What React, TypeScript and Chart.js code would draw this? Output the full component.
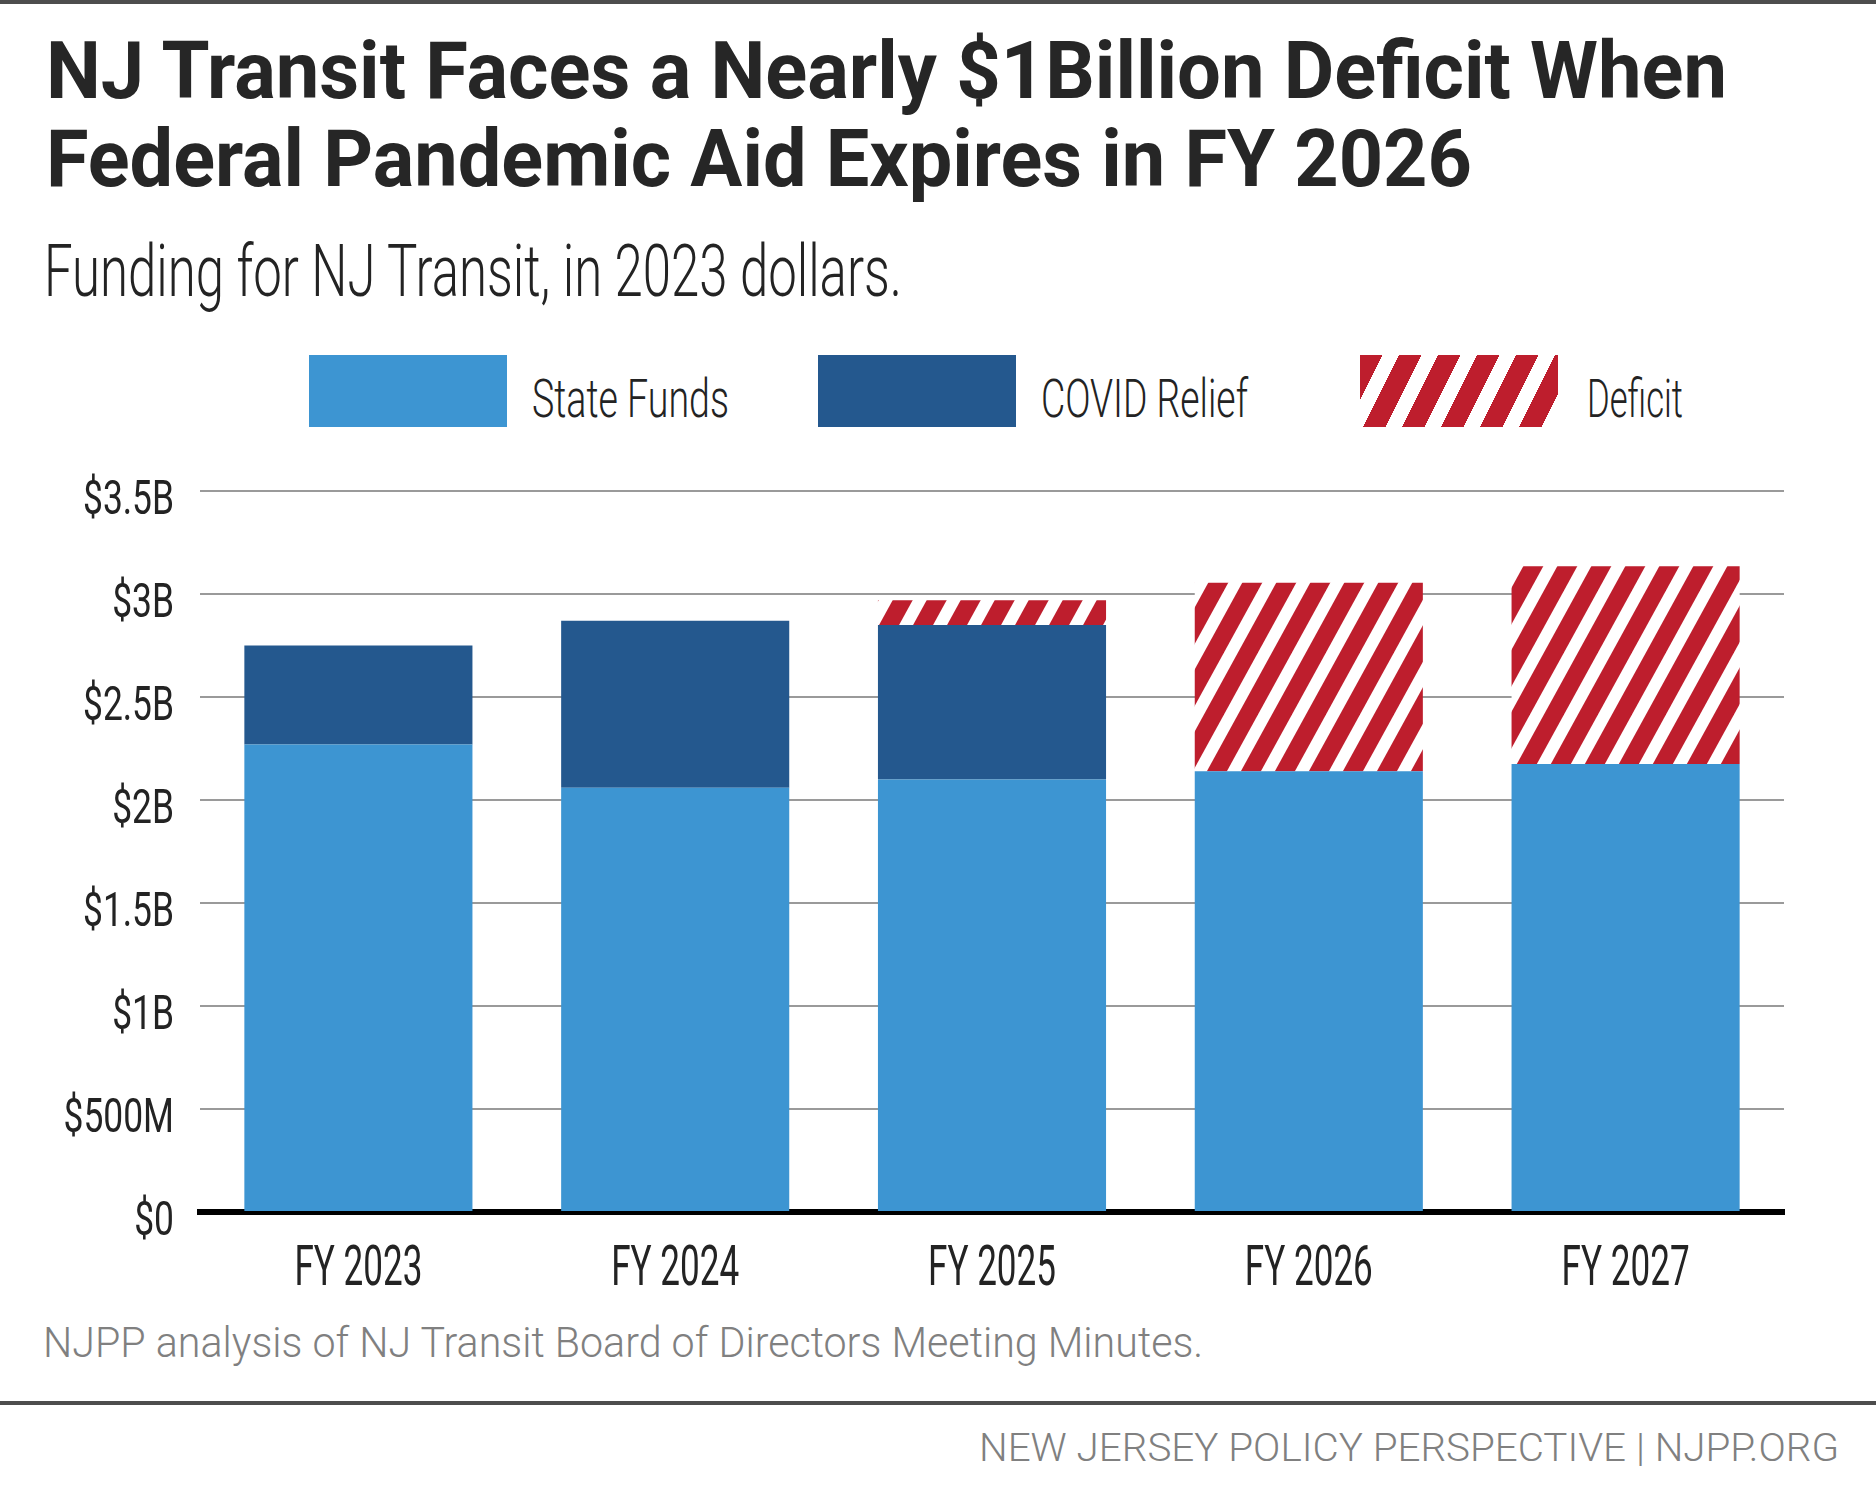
import React, { useEffect, useRef, useMemo } from "react";
import { Chart, registerables } from "chart.js";

Chart.register(...registerables);

// ---------------- DATA ----------------
const categories = ["FY 2023", "FY 2024", "FY 2025", "FY 2026", "FY 2027"];
const stateFunds = [2.27, 2.06, 2.1, 2.14, 2.175];
const covidRelief = [0.48, 0.81, 0.75, 0, 0];
const deficit = [0, 0, 0.12, 0.915, 0.96];
const yTickLabels = ["$0", "$500M", "$1B", "$1.5B", "$2B", "$2.5B", "$3B", "$3.5B"];
const seriesNames = ["State Funds", "COVID Relief", "Deficit"];

// ---------------- STYLE ----------------
const FONT = "Roboto, 'Noto Sans', sans-serif";
const C_STATE = "#3d95d2";
const C_COVID = "#24588e";
const C_RED = "#be1e2d";
const C_TEXT = "#232323";
const C_GREY = "#808080";

const CANVAS_TOP = 430;
const CANVAS_H = 900;

type TextSpec = {
  text: string;
  weight: number;
  cap: number;
  baseline: number;
  x: number;
  width: number;
  color: string;
  align?: "left" | "right";
};

let mctx: CanvasRenderingContext2D | null = null;
function getCtx() {
  if (!mctx) mctx = document.createElement("canvas").getContext("2d");
  return mctx as CanvasRenderingContext2D;
}

function measureSpec(s: TextSpec) {
  const ctx = getCtx();
  ctx.font = `${s.weight} 100px ${FONT}`;
  const capRatio = ctx.measureText("H").actualBoundingBoxAscent / 100;
  const size = s.cap / capRatio;
  ctx.font = `${s.weight} ${size}px ${FONT}`;
  const m = ctx.measureText(s.text);
  const sx = s.width / m.width;
  return { size, sx, ascent: m.fontBoundingBoxAscent, descent: m.fontBoundingBoxDescent };
}

function FitText({ s }: { s: TextSpec }) {
  const m = useMemo(() => measureSpec(s), [s]);
  const left = s.align === "right" ? s.x - s.width : s.x;
  return (
    <div
      style={{
        position: "absolute",
        left,
        top: s.baseline - m.ascent,
        fontFamily: FONT,
        fontWeight: s.weight,
        fontSize: m.size + "px",
        lineHeight: m.ascent + m.descent + "px",
        color: s.color,
        whiteSpace: "nowrap",
        transform: `scaleX(${m.sx})`,
        transformOrigin: "0 0",
      }}
    >
      {s.text}
    </div>
  );
}

const texts: TextSpec[] = [
  { text: "NJ Transit Faces a Nearly $1Billion Deficit When", weight: 700, cap: 57, baseline: 98, x: 46, width: 1683, color: "#262626" },
  { text: "Federal Pandemic Aid Expires in FY 2026", weight: 700, cap: 57, baseline: 185.5, x: 46, width: 1426, color: "#262626" },
  { text: "Funding for NJ Transit, in 2023 dollars.", weight: 300, cap: 51, baseline: 296, x: 44, width: 859, color: C_TEXT },
  { text: seriesNames[0], weight: 300, cap: 38.5, baseline: 416.7, x: 532, width: 197, color: C_TEXT },
  { text: seriesNames[1], weight: 300, cap: 38.5, baseline: 416.7, x: 1041, width: 207, color: C_TEXT },
  { text: seriesNames[2], weight: 300, cap: 38.5, baseline: 416.7, x: 1587, width: 96, color: C_TEXT },
  { text: "NJPP analysis of NJ Transit Board of Directors Meeting Minutes.", weight: 300, cap: 30.5, baseline: 1357, x: 43, width: 1161, color: C_GREY },
  { text: "NEW JERSEY POLICY PERSPECTIVE | NJPP.ORG", weight: 300, cap: 28, baseline: 1461, x: 1839, width: 860, color: C_GREY, align: "right" },
];

function makeStripePattern(ctx: CanvasRenderingContext2D) {
  const w = 34, h = 62, red = 20;
  const tile = document.createElement("canvas");
  tile.width = w;
  tile.height = h;
  const t = tile.getContext("2d") as CanvasRenderingContext2D;
  t.fillStyle = "#ffffff";
  t.fillRect(0, 0, w, h);
  t.fillStyle = C_RED;
  for (let a = -w; a <= 2 * w; a += w) {
    t.beginPath();
    t.moveTo(a, 0);
    t.lineTo(a + red, 0);
    t.lineTo(a + red - w, h);
    t.lineTo(a - w, h);
    t.closePath();
    t.fill();
  }
  return ctx.createPattern(tile, "repeat") as CanvasPattern;
}

function condense(scale: any, refLabel: string, refWidth: number) {
  if (!scale || scale.__condensed) return;
  scale.__condensed = true;
  scale.drawLabels = function (chartArea: any) {
    const ctx: CanvasRenderingContext2D = this.ctx;
    const items = this.getLabelItems(chartArea);
    for (const item of items) {
      const o = item.options;
      ctx.save();
      ctx.font = item.font.string;
      const sx = refWidth / ctx.measureText(refLabel).width;
      ctx.translate(o.translation[0], o.translation[1]);
      if (o.rotation) ctx.rotate(o.rotation);
      ctx.scale(sx, 1);
      ctx.fillStyle = o.color;
      ctx.textAlign = o.textAlign;
      ctx.textBaseline = o.textBaseline;
      ctx.fillText(String(item.label), 0, item.textOffset);
      ctx.restore();
    }
  };
}

const condensePlugin = {
  id: "condenseLabels",
  beforeDraw(chart: any) {
    condense(chart.scales.y, "$3.5B", 91);
    condense(chart.scales.x, "FY 2023", 128);
  },
};

function BarChart() {
  const ref = useRef<HTMLCanvasElement>(null);
  useEffect(() => {
    const canvas = ref.current as HTMLCanvasElement;
    const ctx = canvas.getContext("2d") as CanvasRenderingContext2D;
    const pattern = makeStripePattern(ctx);
    const chart = new Chart(ctx, {
      type: "bar",
      data: {
        labels: categories,
        datasets: [
          { label: seriesNames[0], data: stateFunds, backgroundColor: C_STATE, borderWidth: 0 },
          { label: seriesNames[1], data: covidRelief, backgroundColor: C_COVID, borderWidth: 0 },
          { label: seriesNames[2], data: deficit, backgroundColor: pattern, borderWidth: 0 },
        ],
      },
      options: {
        animation: false,
        responsive: false,
        devicePixelRatio: 1,
        events: [],
        layout: { padding: { top: 61, right: 92, bottom: 0, left: 0 } },
        datasets: { bar: { barPercentage: 0.72, categoryPercentage: 1 } },
        plugins: { legend: { display: false }, tooltip: { enabled: false }, title: { display: false } },
        scales: {
          x: {
            stacked: true,
            grid: { display: false, drawTicks: false },
            border: { display: true, color: "#000000", width: 6 },
            ticks: {
              autoSkip: false,
              maxRotation: 0,
              padding: 26,
              color: C_TEXT,
              font: { family: FONT, size: 55, weight: "400" },
            },
            afterFit: (s: any) => {
              s.height = 118;
            },
          },
          y: {
            stacked: true,
            min: 0,
            max: 3.5,
            grid: { color: "#9a9a9a", lineWidth: 2, drawTicks: false },
            border: { display: false },
            ticks: {
              stepSize: 0.5,
              padding: 26,
              labelOffset: 11,
              color: C_TEXT,
              font: { family: FONT, size: 48, weight: "400" },
              callback: (_v: any, i: number) => yTickLabels[i],
            },
            afterFit: (s: any) => {
              s.width = 200;
            },
          },
        },
      },
      plugins: [condensePlugin],
    } as any);
    return () => chart.destroy();
  }, []);
  return (
    <canvas
      ref={ref}
      width={1876}
      height={CANVAS_H}
      style={{ position: "absolute", left: 0, top: CANVAS_TOP, width: 1876, height: CANVAS_H }}
    />
  );
}

const swatchBase: React.CSSProperties = { position: "absolute", top: 355, width: 198, height: 72 };

export default function App() {
  return (
    <div
      style={{
        position: "absolute",
        left: 0,
        top: 0,
        width: 1876,
        height: 1487,
        background: "#ffffff",
        overflow: "hidden",
      }}
    >
      <div style={{ position: "absolute", left: 0, top: 0, width: 1876, height: 4, background: "#4d4d4d" }} />
      {texts.map((s, i) => (
        <FitText key={i} s={s} />
      ))}
      <div style={{ ...swatchBase, left: 309, background: C_STATE }} />
      <div style={{ ...swatchBase, left: 818, background: C_COVID }} />
      <div
        style={{
          ...swatchBase,
          left: 1360,
          background: `repeating-linear-gradient(116.57deg, ${C_RED} 0px, ${C_RED} 20px, #ffffff 20px, #ffffff 34.9px)`,
        }}
      />
      <BarChart />
      <div style={{ position: "absolute", left: 0, top: 1401, width: 1876, height: 4, background: "#4d4d4d" }} />
    </div>
  );
}
